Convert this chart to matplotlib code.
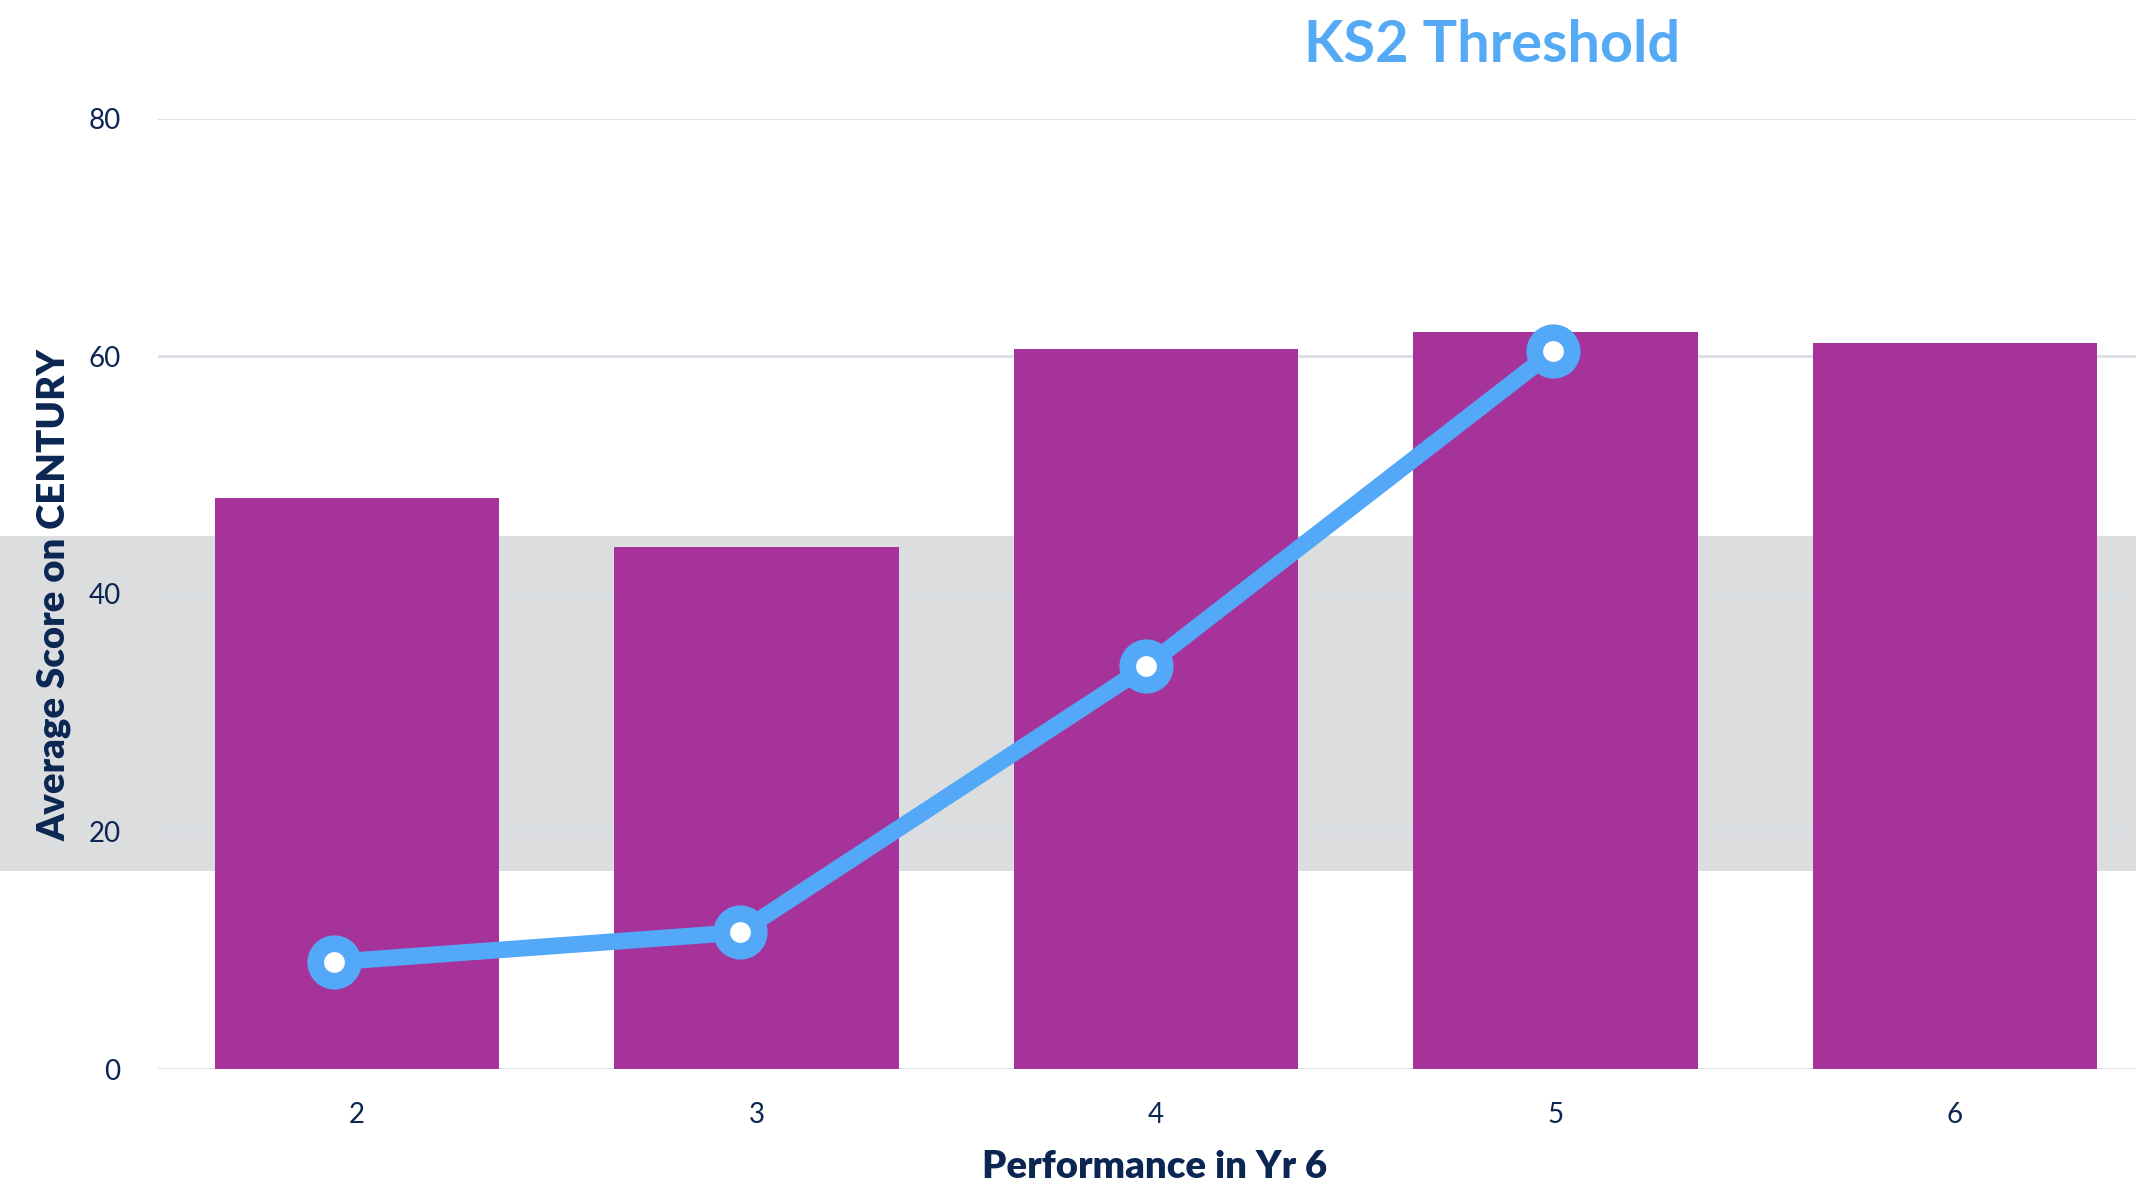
import matplotlib
matplotlib.use("Agg")
import matplotlib.pyplot as plt
from matplotlib.patches import Rectangle
from matplotlib.transforms import blended_transform_factory

# Datos
categorias = [2, 3, 4, 5, 6]
puntuacion_media = [48.1, 43.9, 60.6, 62.0, 61.1]

linea_x = [2, 3, 4, 5]
linea_y = [9.0, 11.5, 33.9, 60.4]

umbral_bajo = 16.7
umbral_alto = 44.9

azul_oscuro = '#0B2652'
morado = '#A5339A'
azul = '#53A8F8'

plt.rcParams['font.family'] = ['Lato', 'DejaVu Sans']

fig = plt.figure(figsize=(21.36, 11.87), dpi=100)
ax = fig.add_axes([158 / 2136, 1 - 1069 / 1187, 1 - 158 / 2136, (1069 - 118.5) / 1187])

# Franja gris del umbral KS2 (ocupa todo el ancho de la figura)
trans = blended_transform_factory(fig.transFigure, ax.transData)
ax.add_patch(Rectangle((0, umbral_bajo), 1, umbral_alto - umbral_bajo, transform=trans,
                       color='#DCDDDF', lw=0, clip_on=False, zorder=0))

ax.bar(categorias, puntuacion_media, width=0.713, color=morado, zorder=3)

ax.set_xlim(1.502, 6.453)
ax.set_ylim(0, 80)
ax.set_yticks([0, 20, 40, 60, 80])
ax.set_xticks(categorias)
ax.grid(axis='y', color='#D8DEE6', linewidth=2, zorder=1)
ax.set_axisbelow(True)
for s in ax.spines.values():
    s.set_visible(False)
ax.tick_params(axis='both', length=0, colors=azul_oscuro, labelsize=20)
ax.tick_params(axis='y', pad=27)
ax.tick_params(axis='x', pad=24)
ax.patch.set_alpha(0)

# Línea del umbral en un eje x secundario
ax2 = ax.twiny()
ax2.set_xlim(1.568, 6.435)
ax2.plot(linea_x, linea_y, color=azul, linewidth=12, marker='o', markersize=27,
         markerfacecolor='white', markeredgecolor=azul, markeredgewidth=12,
         solid_capstyle='round', zorder=5, clip_on=False)
ax2.axis('off')

fig.text(1155 / 2136, 1 - 1167 / 1187, 'Performance in Yr 6', ha='center', va='center',
         fontsize=27.5, fontweight='heavy', color=azul_oscuro)
fig.text(54 / 2136, 1 - 595 / 1187, 'Average Score on CENTURY', ha='center', va='center',
         rotation=90, fontsize=27.5, fontweight='heavy', color=azul_oscuro)
fig.text(1492 / 2136, 1 - 45 / 1187, 'KS2 Threshold', ha='center', va='center',
         fontsize=41.5, fontweight='bold', color='#55AAF5')

fig.savefig('out.png', dpi=100)
